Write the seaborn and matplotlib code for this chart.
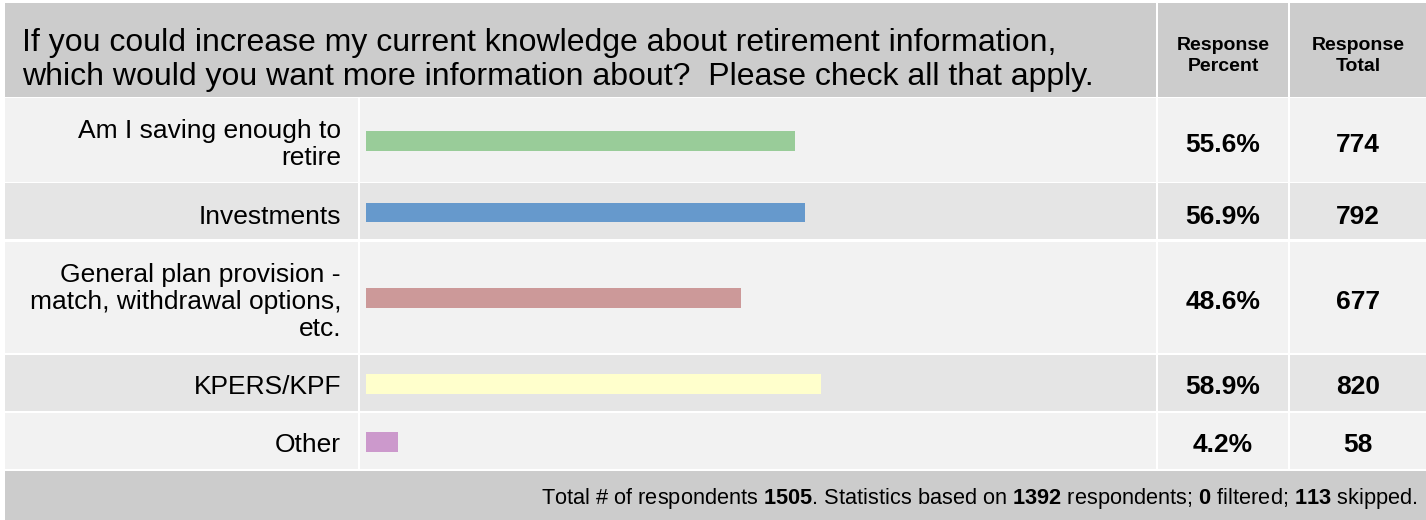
import matplotlib
matplotlib.use("Agg")
import matplotlib.pyplot as plt
import seaborn as sns
from matplotlib.patches import Rectangle

# ---------------- data ----------------
question = ("If you could increase my current knowledge about retirement information,\n"
            "which would you want more information about?  Please check all that apply.")
categories = ["Am I saving enough to\nretire",
              "Investments",
              "General plan provision -\nmatch, withdrawal options,\netc.",
              "KPERS/KPF",
              "Other"]
percents = [55.6, 56.9, 48.6, 58.9, 4.2]
totals = [774, 792, 677, 820, 58]
bar_colors = ["#99cc99", "#6699cc", "#cc9999", "#ffffcc", "#cc99cc"]
col_headers = ["Response\nPercent", "Response\nTotal"]
total_respondents = 1505
based_on = 1392
filtered = 0
skipped = 113

# ---------------- style ----------------
sns.set_theme(style="white")
plt.rcParams["font.family"] = ["Liberation Sans", "DejaVu Sans"]
plt.rcParams["mathtext.fontset"] = "custom"
plt.rcParams["mathtext.rm"] = "Liberation Sans"
plt.rcParams["mathtext.bf"] = "Liberation Sans:bold"

W, H = 1426, 520
fig = plt.figure(figsize=(W / 100, H / 100), dpi=100, facecolor="white")

HEAD_BG = "#cccccc"
ROW_BG = ["#f2f2f2", "#e5e5e5"]
TXT = "#000000"

# column edges (px)
LAB = (5, 358)
BAR = (360, 1156)
PCT = (1158, 1288)
TOT = (1290, 1426)


def rect(x0, y0, x1, y1, color):
    fig.add_artist(Rectangle((x0 / W, 1 - y1 / H), (x1 - x0) / W, (y1 - y0) / H,
                             transform=fig.transFigure, facecolor=color,
                             edgecolor="none", zorder=0))


def ftext(x, y, s, **kw):
    return fig.text(x / W, 1 - y / H, s, color=TXT, **kw)


# ---------------- header ----------------
HEAD_TOP, HEAD_BOT = 3, 97
for c0, c1 in ((LAB[0], BAR[1]), PCT, TOT):
    rect(c0, HEAD_TOP, c1, HEAD_BOT, HEAD_BG)
ftext(22, 60, question, ha="left", va="center", fontsize=23, linespacing=1.2)
for (c0, c1), lab in zip((PCT, TOT), col_headers):
    ftext((c0 + c1) / 2, 56, lab, ha="center", va="center", fontsize=14,
          fontweight="bold", linespacing=1.25)

# ---------------- rows ----------------
y = HEAD_BOT + 1
for i, (cat, p, t, col) in enumerate(zip(categories, percents, totals, bar_colors)):
    nlines = cat.count("\n") + 1
    h = 56 + 27.5 * (nlines - 1)
    bg = ROW_BG[i % 2]
    for c0, c1 in (LAB, BAR, PCT, TOT):
        rect(c0, y, c1, y + h, bg)
    yc = y + h / 2

    ax = fig.add_axes([366 / W, 1 - (y + h + 1) / H, 772 / W, h / H])
    sns.barplot(x=[p], y=[cat], color=col, saturation=1, width=20 / h,
                linewidth=0, ax=ax)
    ax.set_xlim(0, 100)
    ax.axis("off")

    ftext(341, yc + 5, cat, ha="right", va="center", fontsize=19, linespacing=1.17)
    ftext((PCT[0] + PCT[1]) / 2, yc + 5, f"{p:.1f}%", ha="center", va="center",
          fontsize=19, fontweight="bold")
    ftext((TOT[0] + TOT[1]) / 2, yc + 5, f"{t}", ha="center", va="center",
          fontsize=19, fontweight="bold")
    y += h + 2

# ---------------- footer ----------------
rect(LAB[0], y, W, H, HEAD_BG)
footer = (f"Total # of respondents $\\mathbf{{{total_respondents}}}$. "
          f"Statistics based on $\\mathbf{{{based_on}}}$ respondents; "
          f"$\\mathbf{{{filtered}}}$ filtered; $\\mathbf{{{skipped}}}$ skipped.")
ftext(1418, (y + H) / 2 + 3, footer, ha="right", va="center", fontsize=15.7)

fig.savefig("out.png", dpi=100, facecolor="white")
